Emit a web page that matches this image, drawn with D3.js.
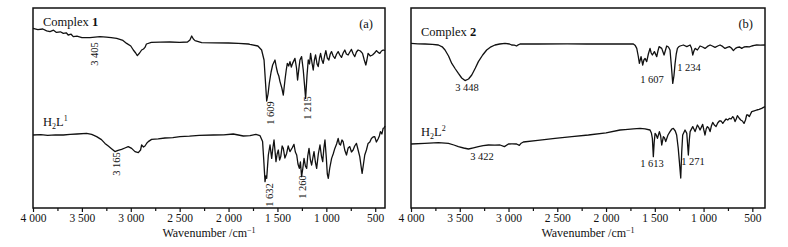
<!DOCTYPE html>
<html>
<head>
<meta charset="utf-8">
<script src="https://cdn.jsdelivr.net/npm/d3@7"></script>
<style>
  body { margin: 0; background: #fff; }
  text { font-family: "Liberation Serif", "DejaVu Serif", serif; fill: #111; }
</style>
</head>
<body>
<svg width="788" height="247"></svg>
<script>
// wavenumber (cm-1) / transmittance (%)
const complex1 = [
  [4000, 89.8], [3950, 89.2], [3900, 89.5], [3860, 88.6], [3826, 88.2], [3790, 88.9], [3760, 87.8],
  [3720, 88.1], [3690, 87.3], [3660, 87.6], [3640, 86.5], [3610, 86.9], [3588, 85.7], [3550, 85.9],
  [3500, 85.2], [3417, 85.2], [3315, 85.7], [3250, 85.4], [3200, 85.2], [3144, 84.8], [3080, 83.8],
  [3042, 82.3], [3000, 81], [2974, 79], [2950, 77.5], [2933, 76.2], [2910, 77.5], [2889, 79],
  [2870, 79.5], [2855, 80.3], [2840, 82], [2790, 82.8], [2700, 82.9], [2600, 83], [2500, 82.8],
  [2420, 83], [2395, 84], [2377, 86], [2360, 84.5], [2343, 83.7], [2275, 82.7], [2150, 82.6],
  [2000, 82.5], [1900, 82.3], [1797, 82], [1781, 81.8], [1700, 81], [1662, 79], [1637, 74],
  [1610, 53.5], [1596, 57], [1583, 62.5], [1565, 68], [1549, 71.5], [1525, 74], [1510, 70],
  [1498, 67.5], [1486, 66], [1474, 63.2], [1455, 60], [1440, 56.5], [1423, 64], [1410, 69],
  [1399, 72.3], [1385, 71], [1372, 73.2], [1358, 70.5], [1345, 72.3], [1321, 74.8], [1305, 70],
  [1294, 64], [1280, 70], [1270, 74], [1253, 75.7], [1236, 69], [1224, 62], [1212, 54.8],
  [1198, 66], [1185, 74], [1172, 72], [1161, 77.3], [1148, 73], [1134, 69], [1122, 74],
  [1110, 76.5], [1095, 72], [1083, 70.7], [1070, 75], [1059, 77.3], [1045, 74], [1032, 72.3],
  [1018, 76], [1005, 78.7], [990, 75], [974, 74], [960, 77], [947, 78.2], [930, 76], [913, 74.8],
  [895, 77], [879, 78.2], [862, 76.5], [845, 75.3], [828, 77.5], [811, 79], [795, 77], [777, 76.5],
  [760, 78], [743, 79.3], [725, 77], [709, 75.7], [692, 78], [675, 79], [652, 78.5], [630, 77.3],
  [612, 74], [596, 71.5], [585, 74], [573, 77.3], [550, 76], [528, 76.5], [507, 77.5], [487, 78.7],
  [470, 77.8], [453, 77.3], [436, 78.5], [419, 79], [400, 78.7]
];

const h2l1 = [
  [4000, 36.5], [3920, 36.7], [3850, 36.3], [3770, 36.6], [3690, 36.5], [3620, 36.8], [3550, 37],
  [3452, 37.3], [3400, 36.8], [3349, 35.7], [3300, 34.2], [3264, 32.3], [3230, 31], [3200, 29.8],
  [3162, 28.2], [3130, 28.8], [3094, 29.3], [3060, 30], [3026, 30.7], [2991, 29.8], [2957, 28.2],
  [2923, 27.7], [2900, 29], [2889, 31.5], [2870, 30.5], [2855, 31], [2835, 32.5], [2821, 33.2],
  [2787, 34.3], [2720, 34.6], [2650, 35], [2570, 35.2], [2497, 35.7], [2400, 35.9], [2300, 36.3],
  [2156, 36.5], [2050, 36.6], [1952, 37], [1900, 36.5], [1849, 36], [1781, 36.2], [1720, 36.8],
  [1679, 36.2], [1652, 33.2], [1640, 24], [1627, 13.2], [1618, 16], [1610, 14.8], [1593, 26.5],
  [1576, 31.5], [1559, 24.8], [1547, 30], [1535, 34], [1515, 23.2], [1503, 27], [1491, 29],
  [1478, 24], [1466, 25.7], [1452, 31], [1440, 29.8], [1424, 25], [1406, 27.3], [1390, 31],
  [1372, 28.2], [1350, 30], [1331, 31.8], [1317, 28], [1303, 26.5], [1290, 22], [1276, 19.8],
  [1265, 23], [1253, 15.7], [1240, 20], [1228, 24.8], [1214, 21], [1201, 19.8], [1190, 26],
  [1177, 29.8], [1163, 24], [1150, 21.5], [1138, 25], [1126, 28.2], [1112, 23], [1099, 19.8],
  [1082, 27], [1065, 31.5], [1050, 26], [1037, 23.2], [1025, 30], [1014, 34], [1000, 25],
  [990, 17], [980, 14.8], [965, 20], [946, 24.8], [930, 27], [913, 29.8], [895, 32], [879, 34.8],
  [867, 32], [855, 31.5], [840, 34], [828, 33.2], [812, 29], [794, 26.5], [777, 30], [760, 30.7],
  [743, 28], [726, 29], [710, 31], [692, 32.3], [675, 29], [658, 25.7], [645, 21], [634, 17.3],
  [620, 22], [607, 26.5], [590, 29], [573, 32.3], [555, 33], [539, 34.8], [522, 35.5], [505, 35.7],
  [488, 33], [471, 34.5], [458, 36], [447, 38.2], [432, 37], [419, 39.8], [410, 40], [400, 41]
];

const complex2 = [
  [4000, 82.3], [3930, 82.1], [3856, 82], [3780, 81.8], [3719, 81.5], [3680, 80.6], [3651, 79],
  [3615, 76], [3582, 72.3], [3545, 69.5], [3514, 67.3], [3480, 65], [3446, 63.7], [3410, 64.5],
  [3377, 66.5], [3340, 70], [3309, 73.2], [3265, 76.5], [3224, 79], [3180, 80.6], [3139, 81.5],
  [3090, 82], [3036, 82.3], [2990, 82], [2968, 81.5], [2940, 81.4], [2917, 81], [2900, 81.6],
  [2882, 82], [2800, 82], [2694, 82], [2400, 82.1], [2200, 82], [2000, 82], [1805, 82],
  [1720, 82], [1700, 81.2], [1685, 79.8], [1670, 76], [1658, 72.3], [1641, 75.7], [1624, 71.5],
  [1612, 74], [1600, 74.8], [1583, 73.2], [1566, 77], [1549, 79.8], [1537, 77.5], [1525, 76.5],
  [1504, 78.2], [1480, 75.7], [1468, 78.5], [1456, 80.7], [1429, 79.8], [1405, 76.5], [1390, 79],
  [1378, 81], [1360, 80.5], [1344, 79], [1330, 71], [1316, 62.3], [1304, 66], [1292, 72.3],
  [1280, 77], [1268, 79.8], [1255, 80.6], [1241, 81], [1207, 81.5], [1172, 80.7], [1138, 81.5],
  [1124, 80], [1111, 76.5], [1099, 78.5], [1087, 79.8], [1063, 79], [1036, 81], [1010, 80.5],
  [985, 79.8], [960, 80.8], [933, 81.5], [910, 81], [882, 80.3], [855, 81], [831, 81.5],
  [805, 80.8], [780, 79.8], [757, 80.3], [735, 80.7], [715, 80], [694, 78.7], [673, 79.8],
  [653, 80.3], [630, 80.5], [609, 79.8], [585, 80.5], [558, 80.7], [530, 80.6], [506, 81],
  [480, 81.3], [455, 81.5], [420, 81.4], [370, 81.5]
];

const h2l2 = [
  [4000, 32], [3860, 32.3], [3719, 32.7], [3616, 32.3], [3560, 31.5], [3514, 30.7], [3460, 30],
  [3411, 29.5], [3360, 30.1], [3309, 30.7], [3260, 31.2], [3206, 31.5], [3140, 31.4], [3087, 31.5],
  [3042, 30.7], [3001, 32], [2960, 32.1], [2917, 32], [2889, 31.3], [2870, 32.4], [2848, 33],
  [2700, 33.8], [2523, 34.8], [2350, 35.7], [2181, 36.5], [2000, 37.6], [1856, 39], [1805, 39.2],
  [1720, 39.6], [1651, 39.8], [1600, 39.6], [1549, 39], [1535, 37.5], [1525, 34.8], [1515, 25.7],
  [1506, 33], [1497, 37.3], [1485, 36.5], [1473, 34.8], [1453, 38.2], [1440, 36], [1429, 31.5],
  [1412, 35.7], [1400, 35], [1388, 33.2], [1365, 36.5], [1344, 38.2], [1325, 39.5], [1310, 39.8],
  [1290, 38.5], [1276, 36.5], [1260, 30], [1248, 23.2], [1234, 15], [1224, 28], [1214, 36.5],
  [1190, 39], [1172, 37.3], [1164, 32], [1156, 26.5], [1146, 34], [1138, 38.2], [1111, 40.7],
  [1099, 39.5], [1087, 38.2], [1063, 41.5], [1050, 40.5], [1036, 39], [1009, 41.8], [997, 39],
  [985, 36.5], [973, 39.5], [961, 40.7], [947, 40], [933, 38.2], [920, 41], [906, 42.8],
  [890, 41.5], [872, 40.7], [855, 42.5], [838, 43.5], [820, 43.5], [803, 42.3], [786, 43.5],
  [769, 44.5], [752, 44], [735, 44.8], [718, 44.5], [701, 45.7], [690, 45], [677, 43.2],
  [665, 44.5], [653, 46.2], [636, 45], [619, 44], [602, 43.5], [585, 42.3], [570, 44], [558, 46.5],
  [545, 46.5], [531, 45.7], [518, 47], [506, 48.2], [480, 48.6], [455, 49], [430, 49.3],
  [404, 49.8], [390, 50.2], [370, 50.7]
];

const majorTicks = [4000, 3500, 3000, 2500, 2000, 1500, 1000, 500];
const minorTicks = [3750, 3250, 2750, 2250, 1750, 1250, 750];
const tickLabels = ['4 000', '3 500', '3 000', '2 500', '2 000', '1 500', '1 000', '500'];

// peak annotations: text, wavenumber, transmittance
const peaksA = [
  ['3 405', 3366, 77], ['1 609', 1576, 47.5], ['1 215', 1188, 50],
  ['3 165', 3141, 22], ['1 632', 1586, 6.5], ['1 260', 1239, 10.5]
];
const peaksB = [
  ['3 448', 3426, 60.5], ['1 607', 1529, 64.5], ['1 234', 1149, 70.5],
  ['3 422', 3272, 26], ['1 613', 1529, 22.5], ['1 271', 1108, 23.5]
];

const svg = d3.select('svg');

const panels = [
  { left: 33, width: 352, xMin: 400, top: { name: 'Complex ', num: '1', data: complex1 },
    bottom: { sub: '1', data: h2l1 }, tag: '(a)', peaks: peaksA, rotated: true,
    topLabelY: 26, bottomLabelY: 126 },
  { left: 411, width: 354, xMin: 370, top: { name: 'Complex ', num: '2', data: complex2 },
    bottom: { sub: '2', data: h2l2 }, tag: '(b)', peaks: peaksB, rotated: false,
    topLabelY: 36, bottomLabelY: 136 }
];

const marginTop = 8, innerHeight = 200;

panels.forEach(p => {
  const g = svg.append('g').attr('transform', `translate(${p.left},${marginTop})`);

  const x = d3.scaleLinear().domain([4000, p.xMin]).range([0, p.width]);
  const y = d3.scaleLinear().domain([0, 100]).range([innerHeight, 0]);

  const line = d3.line().x(d => x(d[0])).y(d => y(d[1]));

  [p.top.data, p.bottom.data].forEach(data => {
    g.append('path')
      .datum(data)
      .attr('fill', 'none')
      .attr('stroke', '#111')
      .attr('stroke-width', 1.3)
      .attr('stroke-linejoin', 'round')
      .attr('d', line);
  });

  const xAxis = d3.axisBottom(x)
    .tickValues(majorTicks)
    .tickSize(4)
    .tickPadding(2)
    .tickFormat((d, i) => tickLabels[i]);

  const xAxisG = g.append('g')
    .attr('transform', `translate(0,${innerHeight})`)
    .call(xAxis);
  xAxisG.select('.domain').remove();
  xAxisG.selectAll('line').attr('stroke', '#111').attr('stroke-width', 1.2);
  xAxisG.selectAll('text')
    .style('font-family', '"Liberation Serif", serif')
    .style('font-size', '11.5px')
    .attr('fill', '#111');

  const minorG = g.append('g')
    .attr('transform', `translate(0,${innerHeight})`)
    .call(d3.axisBottom(x).tickValues(minorTicks).tickSize(3).tickFormat(''));
  minorG.select('.domain').remove();
  minorG.selectAll('line').attr('stroke', '#111').attr('stroke-width', 1.2);

  g.append('rect')
    .attr('width', p.width)
    .attr('height', innerHeight)
    .attr('fill', 'none')
    .attr('stroke', '#111')
    .attr('stroke-width', 1.5);

  g.append('text')
    .attr('x', p.width / 2)
    .attr('y', innerHeight + 29)
    .attr('text-anchor', 'middle')
    .style('font-size', '12px')
    .text('Wavenumber /cm')
    .append('tspan')
      .attr('dy', -4)
      .style('font-size', '8px')
      .text('\u22121');

  const t1 = g.append('text')
    .attr('x', 10)
    .attr('y', p.topLabelY - marginTop)
    .style('font-size', '12.5px')
    .text(p.top.name);
  t1.append('tspan').style('font-weight', 'bold').text(p.top.num);

  const t2 = g.append('text')
    .attr('x', 10)
    .attr('y', p.bottomLabelY - marginTop)
    .style('font-size', '12.5px')
    .text('H');
  t2.append('tspan').attr('dy', 3).style('font-size', '8px').text('2');
  t2.append('tspan').attr('dy', -3).text('L');
  t2.append('tspan').attr('dy', -5).style('font-size', '8px').text(p.bottom.sub);

  g.append('text')
    .attr('x', p.width - 12)
    .attr('y', 20)
    .attr('text-anchor', 'end')
    .style('font-size', '12.5px')
    .text(p.tag);

  p.peaks.forEach(([label, w, t]) => {
    const px = x(w), py = y(t);
    g.append('text')
      .attr('transform', p.rotated ? `translate(${px},${py}) rotate(-90)` : `translate(${px},${py})`)
      .attr('text-anchor', 'middle')
      .attr('dominant-baseline', 'central')
      .style('font-size', '10.5px')
      .text(label);
  });
});
</script>
</body>
</html>
